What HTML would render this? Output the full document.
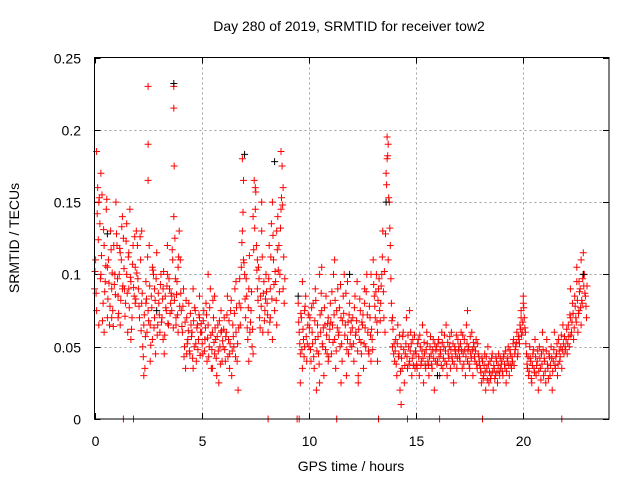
<!DOCTYPE html>
<html><head><meta charset="utf-8"><style>
html,body{margin:0;padding:0;background:#fff;}
svg{display:block;font-family:"Liberation Sans",sans-serif;}
</style></head><body>
<svg id="chart" width="640" height="480" viewBox="0 0 640 480">
<text x="349" y="31" font-size="14" text-anchor="middle" fill="#000">Day 280 of 2019, SRMTID for receiver tow2</text>
<text x="19" y="238" font-size="14" text-anchor="middle" transform="rotate(-90 19 238)">SRMTID / TECUs</text>
<text x="351" y="471" font-size="14" text-anchor="middle">GPS time / hours</text>
<g id="grid"></g>
<g id="ticks"></g>
<path id="redMarks" fill="none" stroke="#f00" stroke-width="1"/>
<path id="blackMarks" fill="none" stroke="#000" stroke-width="1"/>
<rect x="94.5" y="57.5" width="514.5" height="361.5" fill="none" stroke="#000" stroke-width="1"/>
</svg>
<script>
const xTicks=[0,5,10,15,20];
const yTicks=[0,0.05,0.1,0.15,0.2,0.25];
const yTickLabels=["0","0.05","0.1","0.15","0.2","0.25"];
// regular segments: start hour, samples every 0.05 h
const segStart=[0,1,2,3,4,5,6,7,8,9.5,10,11,12,13,14,15,16,17,18,19,20,21,22];
const segVals=[
[.09,.11,.185,.16,.15,.135,.10,.155,.08,.12,.095,.145,.07,.11,.065,.13,.09,.075,.12,.10],
[.15,.12,.085,.10,.065,.11,.14,.125,.09,.08,.10,.06,.115,.145,.095,.07,.12,.085,.105,.13],
[.12,.09,.07,.11,.08,.05,.065,.035,.095,.06,.075,.12,.04,.085,.055,.10,.07,.045,.115,.065],
[.08,.06,.10,.07,.09,.045,.085,.075,.12,.065,.09,.08,.075,.11,.14,.125,.07,.095,.06,.13],
[.11,.075,.06,.09,.05,.035,.07,.055,.08,.045,.065,.06,.09,.05,.075,.04,.065,.055,.07,.06],
[.06,.045,.075,.055,.08,.04,.065,.05,.09,.035,.06,.07,.045,.055,.03,.065,.025,.05,.075,.04],
[.05,.07,.04,.06,.085,.055,.045,.075,.03,.065,.05,.09,.06,.04,.02,.08,.065,.105,.18,.165],
[.10,.07,.085,.055,.09,.06,.075,.05,.14,.165,.145,.12,.09,.105,.07,.085,.13,.06,.095,.075],
[.10,.08,.06,.12,.09,.135,.15,.11,.075,.095,.065,.14,.12,.10,.185,.175,.16,.08],
[.08,.06,.045,.07,.035,.055,.05,.085,.04,.065],
[.05,.07,.04,.06,.08,.035,.055,.02,.065,.045,.10,.06,.075,.05,.03,.065,.085,.045,.07,.055],
[.08,.045,.065,.10,.055,.035,.075,.09,.06,.05,.07,.04,.085,.10,.065,.03,.055,.045,.08,.06],
[.05,.07,.04,.085,.06,.095,.03,.055,.075,.045,.065,.035,.08,.05,.10,.06,.045,.07,.04,.055],
[.11,.085,.07,.10,.06,.09,.075,.08,.10,.13,.07,.06,.17,.195,.19,.15,.12,.08,.05,.045],
[.04,.055,.03,.065,.045,.02,.05,.035,.06,.025,.045,.07,.035,.05,.04,.06,.03,.055,.045,.035],
[.045,.035,.055,.03,.05,.04,.065,.025,.045,.035,.06,.04,.03,.05,.045,.035,.055,.02,.04,.05],
[.04,.055,.03,.045,.06,.035,.05,.04,.065,.03,.045,.05,.035,.06,.04,.025,.05,.045,.035,.055],
[.05,.04,.06,.035,.045,.055,.03,.065,.04,.05,.035,.045,.06,.03,.05,.04,.055,.035,.045,.04],
[.035,.025,.04,.03,.045,.02,.035,.05,.025,.04,.03,.045,.02,.035,.03,.04,.025,.045,.03,.035],
[.04,.03,.045,.035,.025,.04,.05,.03,.045,.035,.04,.055,.045,.05,.06,.045,.055,.065,.07,.06],
[.085,.07,.06,.045,.035,.03,.05,.04,.025,.045,.035,.055,.03,.04,.02,.05,.035,.045,.06,.03],
[.04,.025,.055,.035,.045,.03,.05,.02,.04,.06,.035,.045,.03,.055,.04,.05,.035,.065,.045,.05],
[.055,.045,.065,.05,.07,.06,.08,.055,.085,.07,.095,.06,.075,.09,.065,.08,.115,.10,.085,.07]
];
// second receiver pass, offset by 0.025 h
const seg2Start=[0.025,1.025,2.025,3.025,4.025,5.025,6.025,7.025,8.025,9.525,10.025,11.025,12.025,13.025,14.025,15.025,16.025,17.025,18.025,19.025,20.025,21.025,22.025];
const seg2Vals=[
[.102,.087,.142,.124,.153,.097,.113,.068,.131,.088,.106,.152,.083,.094,.078,.117,.101,.064,.093,.086],
[.128,.097,.073,.118,.082,.133,.092,.104,.071,.123,.087,.112,.077,.098,.062,.107,.091,.126,.083,.101],
[.097,.078,.126,.061,.087,.043,.072,.057,.083,.112,.068,.092,.051,.077,.103,.063,.082,.097,.058,.087],
[.072,.093,.067,.083,.102,.058,.077,.092,.066,.097,.073,.087,.117,.063,.082,.097,.086,.072,.112,.078],
[.087,.064,.078,.043,.067,.082,.052,.061,.047,.073,.057,.042,.068,.077,.052,.063,.048,.072,.044,.066],
[.052,.068,.047,.063,.072,.056,.043,.077,.058,.048,.082,.053,.063,.042,.057,.047,.068,.038,.061,.054],
[.062,.048,.057,.072,.043,.068,.052,.082,.047,.057,.073,.043,.077,.052,.063,.097,.077,.122,.143,.108],
[.083,.097,.063,.077,.113,.067,.088,.062,.117,.132,.157,.103,.082,.097,.063,.078,.112,.087,.068,.083],
[.088,.072,.097,.067,.112,.083,.127,.093,.102,.082,.117,.103,.088,.132,.153,.148,.112,.097],
[.067,.052,.073,.048,.062,.043,.078,.057,.052,.072],
[.063,.048,.077,.052,.043,.068,.082,.047,.057,.038,.072,.087,.052,.063,.077,.048,.058,.066,.043,.062],
[.067,.088,.053,.072,.082,.047,.063,.058,.077,.093,.052,.068,.073,.058,.087,.048,.067,.072,.052,.068],
[.063,.052,.077,.058,.068,.047,.062,.083,.053,.067,.072,.052,.063,.088,.072,.047,.078,.058,.062,.048],
[.093,.078,.088,.067,.082,.097,.068,.092,.112,.088,.102,.128,.162,.182,.153,.132,.097,.068,.062,.052],
[.047,.038,.052,.043,.058,.033,.042,.057,.048,.037,.052,.043,.058,.038,.047,.052,.042,.037,.058,.047],
[.038,.052,.043,.058,.037,.047,.042,.053,.038,.048,.052,.037,.043,.057,.038,.048,.042,.052,.047,.038],
[.052,.043,.048,.037,.053,.042,.058,.047,.038,.053,.042,.057,.048,.043,.052,.038,.047,.058,.042,.048],
[.043,.052,.047,.058,.038,.048,.043,.052,.047,.038,.057,.042,.048,.053,.043,.047,.038,.052,.043,.037],
[.032,.042,.028,.037,.033,.043,.027,.038,.032,.028,.042,.033,.037,.028,.043,.032,.037,.033,.042,.038],
[.033,.043,.038,.047,.033,.042,.037,.048,.038,.043,.052,.037,.048,.053,.043,.057,.052,.062,.058,.067],
[.077,.063,.052,.038,.043,.033,.042,.028,.037,.048,.032,.043,.037,.047,.033,.042,.027,.038,.048,.042],
[.033,.047,.038,.028,.043,.037,.042,.033,.048,.037,.043,.052,.038,.047,.043,.058,.048,.052,.057,.048],
[.062,.052,.057,.072,.058,.067,.073,.063,.078,.067,.082,.073,.088,.077,.082,.097,.092,.087,.078,.092]
];
const extraT=[0.1,0.2,0.3,0.45,0.6,0.8,1.1,1.3,1.5,1.7,1.9,1.2,1.6,2.5,2.5,2.5,2.2,2.4,2.6,2.8,2.3,2.7,3.7,3.7,3.72,3.75,3.2,3.4,3.6,3.8,3.9,4.3,4.6,4.9,5.3,5.6,5.9,5.5,6.9,6.95,6.3,6.6,7.4,7.5,7.6,7.2,7.8,8.3,8.5,8.7,8.8,8.2,9.6,9.8,9.7,10.3,10.6,10.9,10.5,11.2,11.5,11.8,12.3,12.6,12.9,13.2,13.65,13.7,13.9,14.3,14.7,17.4,19.9,20.0,22.2,22.5,22.7,22.6,22.8];
const extraV=[.075,.065,.17,.06,.105,.07,.07,.09,.135,.055,.08,.115,.09,.23,.19,.165,.13,.08,.065,.09,.03,.105,.23,.215,.175,.125,.055,.10,.085,.065,.105,.045,.035,.085,.10,.085,.06,.035,.13,.11,.035,.095,.045,.16,.11,.04,.15,.055,.13,.145,.09,.07,.025,.075,.095,.09,.105,.04,.025,.11,.025,.095,.025,.09,.10,.04,.18,.11,.07,.01,.075,.075,.075,.08,.09,.105,.11,.095,.10];
const zeroT=[1.35,1.82,8.1,9.45,9.55,11.3,13.25,14.6,16.1,18.1,21.8];
const blackT=[3.7,7.0,8.4,0.6,13.6,22.8,9.5,16.0,2.9,11.9];
const blackV=[.232,.183,.178,.128,.15,.10,.085,.03,.075,.1];

const X0=94.5,X1=609,Y0=419,Y1=57.5,XMAX=24,YMAX=0.25;
function sx(t){return X0+(X1-X0)*t/XMAX;}
function sy(v){return Y0-(Y0-Y1)*v/YMAX;}
const NS="http://www.w3.org/2000/svg";
const grid=document.getElementById('grid'),ticks=document.getElementById('ticks');
function line(g,x1,y1,x2,y2,st,dash){const l=document.createElementNS(NS,'line');l.setAttribute('x1',x1);l.setAttribute('y1',y1);l.setAttribute('x2',x2);l.setAttribute('y2',y2);l.setAttribute('stroke',st);if(dash)l.setAttribute('stroke-dasharray',dash);g.appendChild(l);return l;}
function txt(x,y,s,anchor){const t=document.createElementNS(NS,'text');t.setAttribute('x',x);t.setAttribute('y',y);t.setAttribute('font-size','14');t.setAttribute('text-anchor',anchor);t.textContent=s;ticks.appendChild(t);return t;}
xTicks.forEach(v=>{const x=Math.round(sx(v))+0.5;
 if(v>0){const g=line(grid,x,Y1,x,Y0,'#a0a0a0','2,3');}
 line(ticks,x,Y0,x,Y0-6,'#000');line(ticks,x,Y1,x,Y1+6,'#000');
 const t=txt(x,446,String(v),'middle');
 
 
});
yTicks.forEach((v,i)=>{const y=Math.round(sy(v))+0.5;
 if(v>0&&v<YMAX){const g=line(grid,X0,y,X1,y,'#a0a0a0','2,3');}
 line(ticks,X0,y,X0+6,y,'#000');line(ticks,X1,y,X1-6,y,'#000');
 const t=txt(81,y+5,yTickLabels[i],'end');
 
 
});
function plus(t,v){const x=sx(t),y=sy(v);return 'M'+(x-3.5).toFixed(1)+' '+y.toFixed(1)+'h7M'+x.toFixed(1)+' '+(y-3.5).toFixed(1)+'v7';}
let d='';
segStart.forEach((s,i)=>{segVals[i].forEach((v,j)=>{d+=plus(s+j*0.05,v);});});
seg2Start.forEach((s,i)=>{seg2Vals[i].forEach((v,j)=>{d+=plus(s+j*0.05,v);});});
extraT.forEach((t,i)=>{d+=plus(t,extraV[i]);});
zeroT.forEach(t=>{d+=plus(t,0);});
document.getElementById('redMarks').setAttribute('d',d);
let db='';
blackT.forEach((t,i)=>{db+=plus(t,blackV[i]);});
document.getElementById('blackMarks').setAttribute('d',db);
</script>
</body></html>
